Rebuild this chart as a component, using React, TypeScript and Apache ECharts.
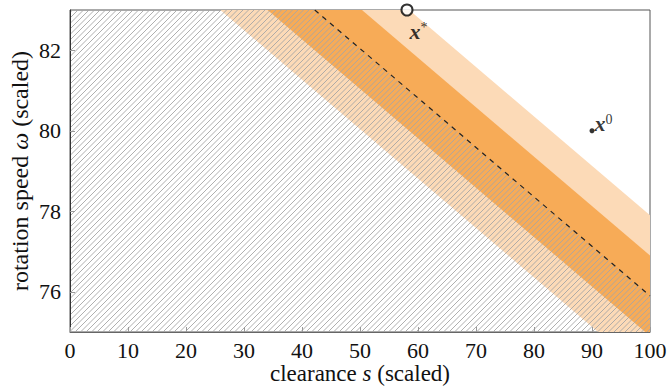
import React, { useEffect, useRef } from "react";
import * as echarts from "echarts";

// ---- data ----
const sLimits = [0, 100];
const wLimits = [75, 83];
const xTickStep = 10;
const yTicks = [76, 78, 80, 82];
// dashed boundary (end points in data space)
const boundaryS = [42.2, 100];
const boundaryW = [83, 75.9];
// half widths of the uncertainty bands around the boundary (ω units): outer, inner
const bandHalfWidths = [2, 1];
const optimumPoint = [58.1, 83]; // x*
const startPoint = [90, 80]; // x0

// ---- styles ----
const FONT = "Liberation Serif";
const bandColors = ["#FCDAB7", "#F7AB57"];
const HATCH_STEP = 5.5;

const slope = (boundaryW[1] - boundaryW[0]) / (boundaryS[1] - boundaryS[0]);
const wAt = (s: number) => boundaryW[0] + slope * (s - boundaryS[0]);

type P = number[];
function clipRect(poly: P[], xmin: number, xmax: number, ymin: number, ymax: number): P[] {
  const edges: [(p: P) => boolean, (a: P, b: P) => P][] = [
    [(p) => p[0] >= xmin, (a, b) => { const t = (xmin - a[0]) / (b[0] - a[0]); return [xmin, a[1] + t * (b[1] - a[1])]; }],
    [(p) => p[0] <= xmax, (a, b) => { const t = (xmax - a[0]) / (b[0] - a[0]); return [xmax, a[1] + t * (b[1] - a[1])]; }],
    [(p) => p[1] >= ymin, (a, b) => { const t = (ymin - a[1]) / (b[1] - a[1]); return [a[0] + t * (b[0] - a[0]), ymin]; }],
    [(p) => p[1] <= ymax, (a, b) => { const t = (ymax - a[1]) / (b[1] - a[1]); return [a[0] + t * (b[0] - a[0]), ymax]; }],
  ];
  let out = poly;
  for (const [inside, inter] of edges) {
    const input = out;
    out = [];
    for (let i = 0; i < input.length; i++) {
      const cur = input[i];
      const prev = input[(i + input.length - 1) % input.length];
      const ci = inside(cur), pi = inside(prev);
      if (ci) {
        if (!pi) out.push(inter(prev, cur));
        out.push(cur);
      } else if (pi) {
        out.push(inter(prev, cur));
      }
    }
  }
  return out;
}

const clipToPlot = (poly: P[]) => clipRect(poly, sLimits[0], sLimits[1], wLimits[0], wLimits[1]);

export default function App() {
  const ref = useRef<HTMLDivElement>(null);
  useEffect(() => {
    if (!ref.current) return;
    const chart = echarts.init(ref.current, undefined, { renderer: "svg" });

    const bandSeries = bandHalfWidths.map((h, i) => ({
      type: "custom",
      z: 1 + i * 0.1,
      silent: true,
      data: [[h]],
      renderItem: (params: any, api: any) => {
        const hw = api.value(0);
        const poly = clipToPlot([
          [-200, wAt(-200) + hw],
          [300, wAt(300) + hw],
          [300, wAt(300) - hw],
          [-200, wAt(-200) - hw],
        ]);
        return {
          type: "polygon",
          shape: { points: poly.map((p) => api.coord(p)) },
          style: { fill: bandColors[i], stroke: null },
        };
      },
    }));

    const hatchSeries = {
      type: "custom",
      z: 2,
      silent: true,
      data: [[0]],
      renderItem: (params: any, api: any) => {
        const poly = clipToPlot([
          [-200, wAt(-200)],
          [300, wAt(300)],
          [300, -1000],
          [-200, -1000],
        ]).map((p) => api.coord(p));
        let minC = Infinity, maxC = -Infinity;
        poly.forEach((p: number[]) => {
          minC = Math.min(minC, p[0] + p[1]);
          maxC = Math.max(maxC, p[0] + p[1]);
        });
        const children: any[] = [];
        const start = Math.ceil(minC / HATCH_STEP) * HATCH_STEP;
        for (let c = start; c <= maxC; c += HATCH_STEP) {
          const pts: number[][] = [];
          for (let i = 0; i < poly.length; i++) {
            const a = poly[i], b = poly[(i + 1) % poly.length];
            const fa = a[0] + a[1] - c, fb = b[0] + b[1] - c;
            if ((fa <= 0 && fb >= 0) || (fa >= 0 && fb <= 0)) {
              if (fa === fb) continue;
              const t = fa / (fa - fb);
              pts.push([a[0] + t * (b[0] - a[0]), a[1] + t * (b[1] - a[1])]);
            }
          }
          if (pts.length < 2) continue;
          pts.sort((p, q) => p[0] - q[0]);
          const p1 = pts[0], p2 = pts[pts.length - 1];
          children.push({
            type: "line",
            shape: { x1: p1[0], y1: p1[1], x2: p2[0], y2: p2[1] },
            style: { stroke: "#a6a6a6", lineWidth: 0.9 },
          });
        }
        return { type: "group", children };
      },
    };

    const supRich = {
      b: { fontFamily: FONT, fontWeight: "bold", fontStyle: "italic", fontSize: 22, color: "#000" },
      sup: { fontFamily: FONT, fontSize: 14, color: "#000", verticalAlign: "top" },
    };

    const nameStyle = (size: number) => ({
      fontFamily: FONT, fontSize: size, color: "#111",
      rich: {
        r: { fontFamily: FONT, fontSize: size, color: "#111" },
        i: { fontFamily: FONT, fontSize: size, fontStyle: "italic", color: "#111" },
      },
    });

    const tickLabel = {
      fontFamily: FONT, fontSize: 22, color: "#111",
      formatter: (v: number) => `{t|${v}}`,
      rich: { t: { fontFamily: FONT, fontSize: 22, color: "#111" } },
    };

    const option: any = {
      animation: false,
      backgroundColor: "#fff",
      textStyle: { fontFamily: FONT },
      grid: {
        left: 70, right: 19, top: 10, bottom: 54,
        outerBoundsMode: "none",
        containLabel: false,
        show: true, borderColor: "#555", borderWidth: 1, backgroundColor: "transparent",
      },
      xAxis: {
        type: "value",
        min: sLimits[0], max: sLimits[1], interval: xTickStep,
        z: 5,
        splitLine: { show: false },
        axisLine: { show: true, lineStyle: { color: "#666", width: 1 } },
        axisTick: { show: true, inside: true, length: 5, lineStyle: { color: "#999" } },
        axisLabel: { ...tickLabel, margin: 7 },
        name: "{r|clearance }{i|s}{r| (scaled)}",
        nameLocation: "middle",
        nameGap: 30,
        nameMoveOverlap: false,
        nameTextStyle: nameStyle(23),
      },
      yAxis: {
        type: "value",
        min: wLimits[0], max: wLimits[1],
        z: 5,
        splitLine: { show: false },
        axisLine: { show: true, lineStyle: { color: "#333", width: 1 } },
        axisTick: { show: true, inside: true, length: 5, lineStyle: { color: "#999" }, customValues: yTicks },
        axisLabel: { ...tickLabel, margin: 9, customValues: yTicks },
        name: "{r|rotation speed }{i|ω}{r| (scaled)}",
        nameLocation: "middle",
        nameRotate: 90,
        nameGap: 38,
        nameMoveOverlap: false,
        nameTextStyle: nameStyle(24),
      },
      series: [
        ...bandSeries,
        hatchSeries,
        {
          type: "line",
          z: 3,
          silent: true,
          symbol: "none",
          data: boundaryS.map((s, i) => [s, boundaryW[i]]),
          lineStyle: { color: "#222", width: 1.2, type: [5, 5] },
        },
        {
          type: "scatter",
          z: 4,
          clip: false,
          silent: true,
          symbol: "circle",
          symbolSize: 11,
          data: [optimumPoint],
          itemStyle: { color: "#fff", borderColor: "#000", borderWidth: 2 },
          label: {
            show: true, position: "right", distance: 0, offset: [-4, 21],
            formatter: "{b|x}{sup|*}", rich: supRich,
          },
        },
        {
          type: "scatter",
          z: 4,
          clip: false,
          silent: true,
          symbol: "circle",
          symbolSize: 5,
          data: [startPoint],
          itemStyle: { color: "#000" },
          label: {
            show: true, position: "right", distance: 0, offset: [0, -7],
            formatter: "{b|x}{sup|0}", rich: supRich,
          },
        },
      ],
    };
    chart.setOption(option);
    return () => chart.dispose();
  }, []);
  return (
    <div
      ref={ref}
      style={{ position: "fixed", left: 0, top: 0, width: 669, height: 386, background: "#fff" }}
    />
  );
}
